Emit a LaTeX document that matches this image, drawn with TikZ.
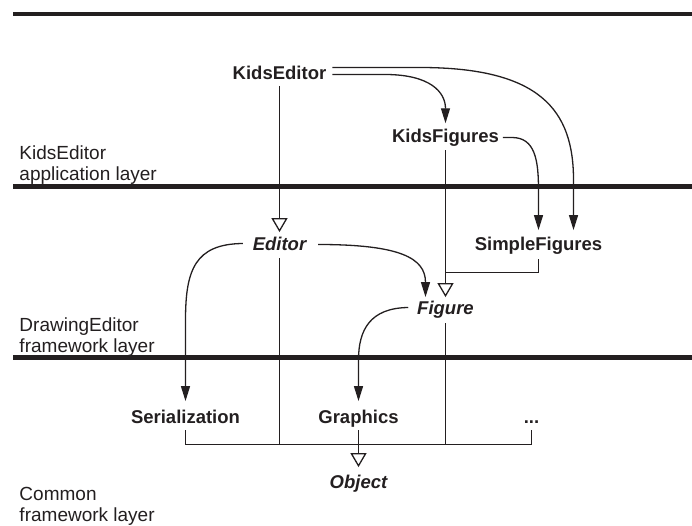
\documentclass[tikz,border=0pt]{standalone}
\usepackage{fontspec}
\setmainfont{Liberation Sans}
\usetikzlibrary{arrows.meta,calc}
\definecolor{ink}{HTML}{231F20}

\begin{document}
\begin{tikzpicture}[x=1pt,y=1pt,
  layerline/.style={line width=4.6pt, draw=ink},
  link/.style={line width=1.3pt, draw=ink},
  uses/.style={link, -{Triangle[length=15pt,width=9pt]}},
  inherit/.style={link, -{Triangle[open,length=14pt,width=16pt,fill=white]}},
  cls/.style={inner sep=0pt, outer sep=0pt, anchor=base, text=ink,
    font=\fontsize{18.5}{20.5}\selectfont\bfseries},
  abstractcls/.style={cls, font=\fontsize{18.5}{20.5}\selectfont\bfseries\itshape},
  layerlabel/.style={inner sep=0pt, outer sep=0pt, anchor=base west, text=ink,
    font=\fontsize{19}{20.5}\selectfont}
]
\useasboundingbox (0,0) rectangle (692,-526);

% layer separators
\draw[layerline] (13,-14) -- (692,-14);
\draw[layerline] (13,-186.5) -- (692,-186.5);
\draw[layerline] (13,-357.5) -- (692,-357.5);

% layer names
\node[layerlabel] (lapp) at (19.5,-160)
  {\begin{tabular}[t]{@{}l@{}}KidsEditor\\application layer\end{tabular}};
\node[layerlabel] (lfw) at (19.5,-331.5)
  {\begin{tabular}[t]{@{}l@{}}DrawingEditor\\framework layer\end{tabular}};
\node[layerlabel] (lcommon) at (19.5,-500.5)
  {\begin{tabular}[t]{@{}l@{}}Common\\framework layer\end{tabular}};

% classes
\node[cls] (ke) at (279.5,-79.3) {KidsEditor};
\node[cls] (kf) at (445.5,-142.7) {KidsFigures};
\node[abstractcls] (ed) at (279.5,-251) {Editor};
\node[cls] (sf) at (538.5,-251) {SimpleFigures};
\node[abstractcls] (fg) at (445.5,-314) {Figure};
\node[cls] (se) at (185.5,-423) {Serialization};
\node[cls] (gr) at (358.5,-423) {Graphics};
\node[cls] (dt) at (531.5,-423) {...};
\node[abstractcls] (ob) at (358.5,-488) {Object};
\coordinate (bus) at (358.5,-444.5);

% uses relations
\draw[uses] ([shift={(6,4.8)}]ke.base east) -- (385,-74.5)
  .. controls (430,-74.5) and (445.5,-92) .. ([yshift=6]kf.north);
\draw[uses] ([shift={(6,11.8)}]ke.base east) -- (420,-67.5)
  .. controls (540,-67.5) and (573.5,-110) .. (573.5,-180)
  -- ([shift={(35,7.5)}]sf.north);
\draw[uses] ([shift={(4,5.2)}]kf.base east) -- (512,-137.5)
  .. controls (535,-137.5) and (538.5,-160) .. (538.5,-190)
  -- ([yshift=7.5]sf.north);
\draw[uses] ([shift={(12,6.5)}]ed.base east)
  .. controls (400,-244.5) and (425.5,-258) .. ([shift={(-20,3.5)}]fg.north);
\draw[uses] ([shift={(-10,7.5)}]ed.base west)
  .. controls (195,-244) and (185.5,-270) .. (185.5,-320)
  -- ([yshift=8.5]se.north);
\draw[uses] ([shift={(-9,6.5)}]fg.base west)
  .. controls (370,-308) and (358.5,-330) .. (358.5,-360)
  -- ([yshift=8.5]gr.north);

% inheritance relations
\draw[inherit] ([yshift=-6.7]ke.base) -- ([yshift=5.5]ed.north);
\draw[inherit] ([yshift=-7.5]kf.base) -- ([yshift=3.5]fg.north);
\draw[link] ([yshift=-8]sf.base) |- ([yshift=28]fg.north);
\draw[link] ([yshift=-7]ed.base) -- (ed.base |- bus);
\draw[link] ([yshift=-9]fg.base) -- (fg.base |- bus);
\draw[link] ([yshift=-7]se.base) |- (bus) -| ([yshift=-7]dt.base);
\draw[inherit] ([yshift=-7]gr.base) -- ([yshift=7.5]ob.north);
\end{tikzpicture}
\end{document}
